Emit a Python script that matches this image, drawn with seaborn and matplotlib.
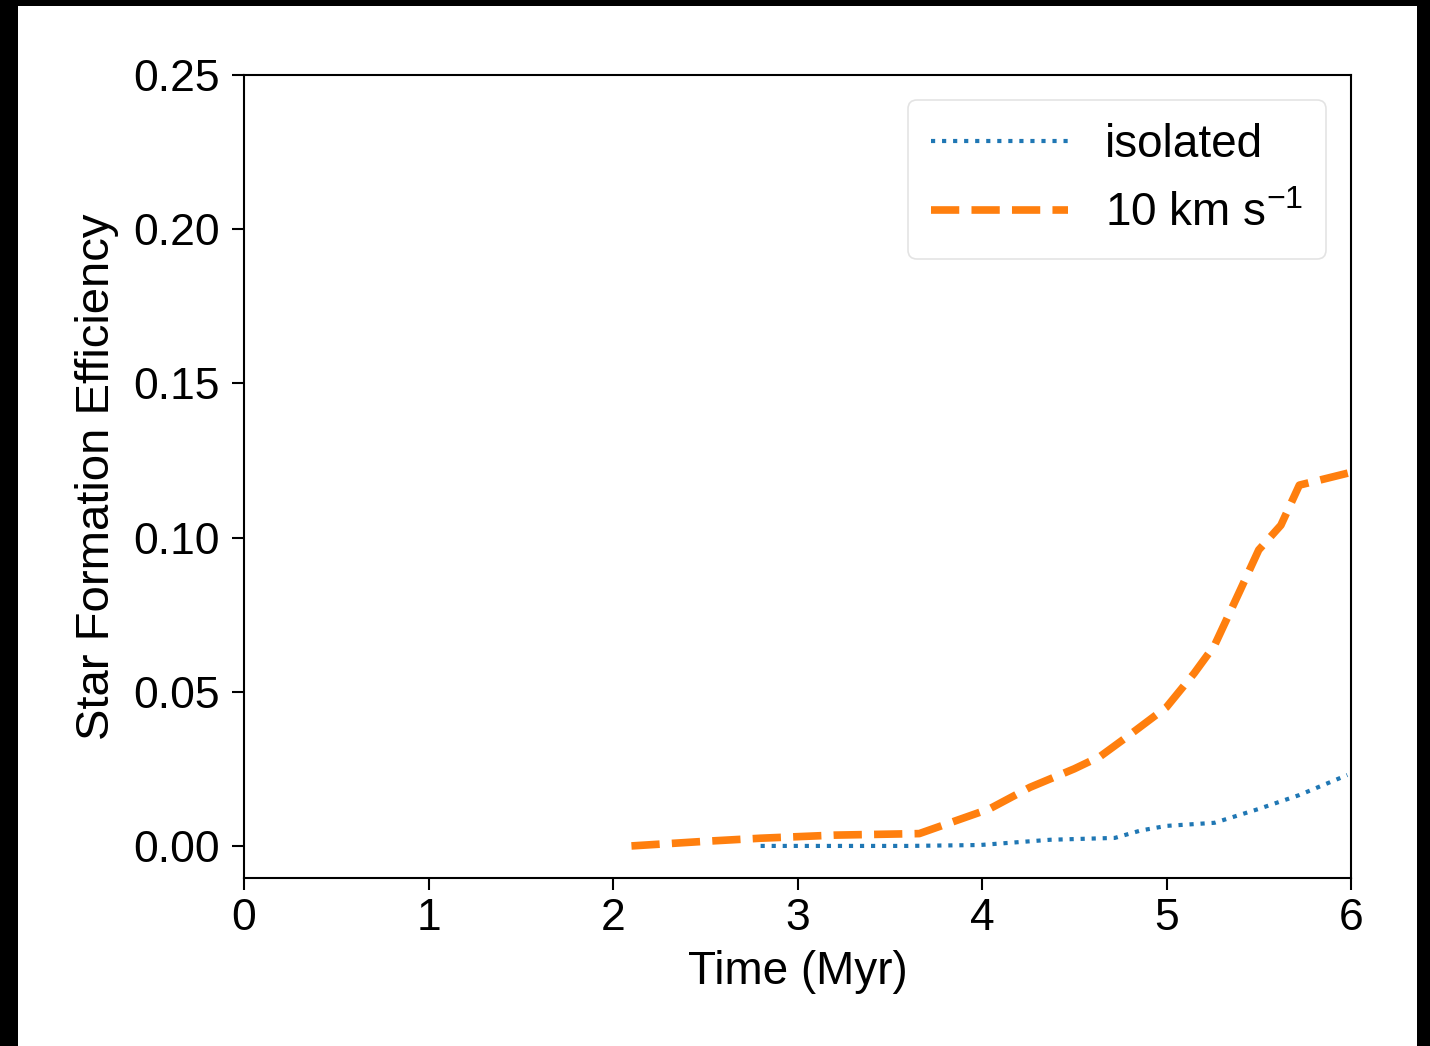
import matplotlib
matplotlib.use("Agg")
import matplotlib.pyplot as plt
import seaborn as sns
import pandas as pd
from matplotlib.patches import Rectangle

# Data
iso_time = [2.8, 3.2, 3.6, 3.99, 4.37, 4.72, 4.86, 5.0, 5.26, 5.5, 5.72, 5.98]
iso_sfe = [0.0, 0.0, 0.0, 0.0003, 0.002, 0.0026, 0.005, 0.0065, 0.0075, 0.012, 0.0165, 0.023]
flow_time = [2.1, 2.5, 2.8, 3.2, 3.66, 4.04, 4.26, 4.5, 4.64, 4.8, 5.0, 5.15, 5.26, 5.4, 5.5, 5.62, 5.72, 5.99]
flow_sfe = [0.0, 0.0015, 0.0025, 0.0035, 0.004, 0.012, 0.019, 0.025, 0.029, 0.036, 0.045, 0.056, 0.065, 0.083, 0.096, 0.104, 0.117, 0.121]
labels = ["isolated", "10 km s$^{-1}$"]
xticks = [0, 1, 2, 3, 4, 5, 6]
yticks = [0.00, 0.05, 0.10, 0.15, 0.20, 0.25]

sns.set_theme(style="ticks")
plt.rcParams["font.family"] = ["Liberation Sans", "DejaVu Sans"]
plt.rcParams["mathtext.default"] = "regular"
plt.rcParams["text.color"] = "black"
plt.rcParams["axes.labelcolor"] = "black"
plt.rcParams["xtick.color"] = "black"
plt.rcParams["ytick.color"] = "black"

FS = 32

fig = plt.figure(figsize=(14.30, 10.46), dpi=100)
fig.patch.set_facecolor("black")
bg = Rectangle((18 / 1430, 0), (1417 - 18) / 1430, (1046 - 6) / 1046,
               transform=fig.transFigure, facecolor="white",
               edgecolor="none", zorder=-10)
fig.patches.append(bg)
ax = fig.add_axes([244 / 1430, 1 - 878 / 1046, (1351 - 244) / 1430, (878 - 75) / 1046])

df1 = pd.DataFrame({"t": iso_time, "sfe": iso_sfe})
df2 = pd.DataFrame({"t": flow_time, "sfe": flow_sfe})
sns.lineplot(data=df1, x="t", y="sfe", ax=ax, color="#1f77b4", linestyle=":",
             linewidth=3.0, label=labels[0])
sns.lineplot(data=df2, x="t", y="sfe", ax=ax, color="#ff7f0e", linestyle="--",
             linewidth=5.5, label=labels[1])

ax.set_xlim(0, 6)
ax.set_ylim(-0.0104, 0.25)
ax.set_xticks(xticks)
ax.set_yticks(yticks)
ax.set_xticklabels([str(v) for v in xticks])
ax.set_yticklabels([f"{v:.2f}" for v in yticks])
ax.tick_params(axis="both", labelsize=FS, length=8.5, width=1.5, color="black",
               labelcolor="black", direction="out")
ax.tick_params(axis="y", pad=9)
ax.tick_params(axis="x", pad=6)
for s in ax.spines.values():
    s.set_visible(True)
    s.set_color("black")
    s.set_linewidth(1.5)
ax.set_xlabel("Time (Myr)", fontsize=FS + 1, labelpad=8)
ax.set_ylabel("Star Formation Efficiency", fontsize=FS + 2, labelpad=10)

leg = ax.legend(loc="upper right", fontsize=FS + 1, handlelength=3.0, frameon=True,
                borderpad=0.5, labelspacing=0.55, handletextpad=0.8,
                borderaxespad=0.55)
leg.get_frame().set_edgecolor("#dddddd")
leg.get_frame().set_linewidth(1.2)
for t in leg.get_texts():
    t.set_color("black")

fig.savefig("out.png", dpi=100, facecolor=fig.get_facecolor())
